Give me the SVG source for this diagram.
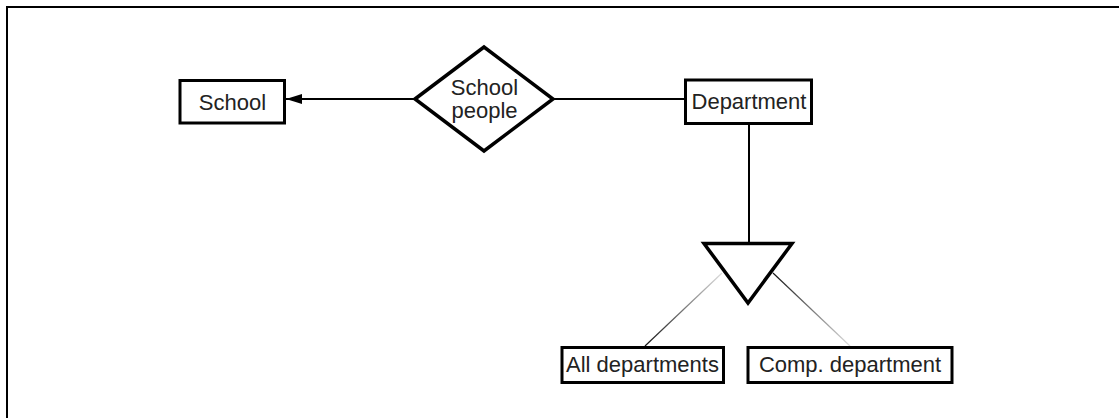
<svg xmlns="http://www.w3.org/2000/svg" width="1119" height="418" viewBox="0 0 1119 418">
<style>
.box{fill:#fff;stroke:#000;stroke-width:3}
.shape{fill:#fff;stroke:#000;stroke-width:3.5;stroke-linejoin:miter}
.lbl{font-family:"Liberation Sans",Arial,sans-serif;font-size:22px;fill:#222;text-anchor:middle}
.conn{stroke:#000;stroke-width:2;fill:none}
</style>
<defs>
<marker id="arrow" markerWidth="16" markerHeight="10" refX="16" refY="5" orient="auto" markerUnits="userSpaceOnUse">
<path d="M0,0 L16,5 L0,10 Z" fill="#000"/>
</marker>
<linearGradient id="gL" gradientUnits="userSpaceOnUse" x1="722" y1="273" x2="645" y2="346">
<stop offset="0" stop-color="#ddd"/>
<stop offset="1" stop-color="#111"/>
</linearGradient>
<linearGradient id="gR" gradientUnits="userSpaceOnUse" x1="773" y1="273" x2="850" y2="346">
<stop offset="0" stop-color="#111"/>
<stop offset="1" stop-color="#ddd"/>
</linearGradient>
</defs>
<rect width="1119" height="418" fill="#fff"/>
<rect x="7" y="7" width="1130" height="430" fill="none" stroke="#000" stroke-width="2"/>
<g id="connectors">
<line class="conn" x1="415" y1="99" x2="286" y2="99" marker-end="url(#arrow)"/>
<line class="conn" x1="553" y1="99" x2="685" y2="99"/>
<line class="conn" x1="749" y1="125" x2="749" y2="243"/>
<line x1="722" y1="273" x2="645" y2="346" stroke="url(#gL)" stroke-width="1.2"/>
<line x1="773" y1="273" x2="850" y2="346" stroke="url(#gR)" stroke-width="1.2"/>
</g>
<g id="school">
<rect class="box" x="180" y="80.5" width="104.5" height="42.5"/>
<text class="lbl" x="232.5" y="110">School</text>
</g>
<g id="school-people">
<polygon class="shape" points="415,99 484,47 553,99 484,151"/>
<text class="lbl" x="484.5" y="95">School</text>
<text class="lbl" x="484.5" y="118">people</text>
</g>
<g id="department">
<rect class="box" x="685.5" y="80" width="126" height="43.5"/>
<text class="lbl" x="749" y="108.5">Department</text>
</g>
<g id="isa">
<polygon class="shape" points="704,243.5 792,243.5 748,303"/>
</g>
<g id="all-departments">
<rect class="box" x="562" y="347.5" width="161.5" height="35"/>
<text class="lbl" x="642.5" y="372">All departments</text>
</g>
<g id="comp-department">
<rect class="box" x="748" y="347.5" width="204" height="35"/>
<text class="lbl" x="850" y="372">Comp. department</text>
</g>
</svg>
